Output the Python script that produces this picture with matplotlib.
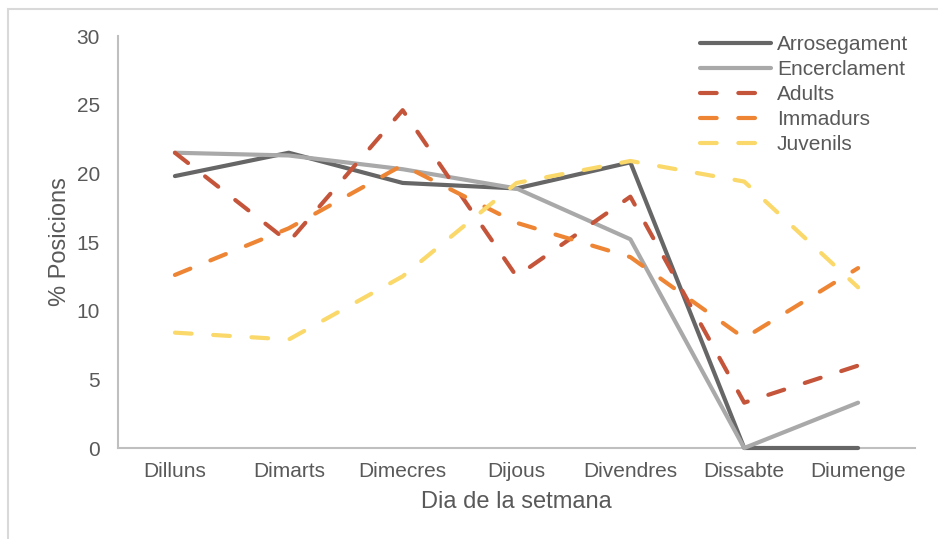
import numpy as np
import matplotlib.pyplot as plt
from matplotlib.patches import Rectangle

plt.rcParams['font.family'] = ['Liberation Sans', 'DejaVu Sans']

# Percentage of positions recorded for each day of the week
days = ['Dilluns', 'Dimarts', 'Dimecres', 'Dijous', 'Divendres', 'Dissabte', 'Diumenge']
arrosegament = [19.8, 21.5, 19.3, 18.9, 20.8, 0.0, 0.0]
encerclament = [21.5, 21.3, 20.3, 18.9, 15.2, 0.0, 3.3]
adults = [21.5, 15.0, 24.6, 12.5, 18.3, 3.3, 6.0]
immadurs = [12.6, 16.0, 20.6, 16.4, 13.9, 8.0, 13.1]
juvenils = [8.4, 7.9, 12.5, 19.3, 20.9, 19.4, 11.7]

text_col = '#595959'
x = np.arange(len(days))

fig = plt.figure(figsize=(9.38, 5.39), dpi=100)
ax = fig.add_axes([118 / 938, 1 - 448 / 539, (915 - 118) / 938, (448 - 36) / 539])

lw = 3.0
common = dict(lw=lw, zorder=3, clip_on=False)
ax.plot(x, arrosegament, color='#666666', solid_capstyle='round', label='Arrosegament', **common)
ax.plot(x, encerclament, color='#a9a9a9', solid_capstyle='round', label='Encerclament', **common)
dash = (4.0, 5.2)
ax.plot(x, adults, color='#c5553a', dashes=dash, dash_capstyle='round', label='Adults', **common)
ax.plot(x, immadurs, color='#ed8534', dashes=dash, dash_capstyle='round', label='Immadurs', **common)
ax.plot(x, juvenils, color='#fad86a', dashes=dash, dash_capstyle='round', label='Juvenils', **common)

ax.set_xlim(-0.5, len(days) - 0.5)
ax.set_ylim(0, 30)
ax.set_yticks(np.arange(0, 31, 5))
ax.set_xticks(x)
ax.set_xticklabels(days)
ax.tick_params(axis='both', length=0, labelsize=15, colors=text_col)
ax.tick_params(axis='y', pad=13)
ax.tick_params(axis='x', pad=10)

for side in ['top', 'right']:
    ax.spines[side].set_visible(False)
for side in ['left', 'bottom']:
    ax.spines[side].set_color('#bfbfbf')
    ax.spines[side].set_linewidth(1.5)

ax.set_xlabel('Dia de la setmana', fontsize=17, color=text_col, labelpad=7)
ax.set_ylabel('% Posicions', fontsize=17, color=text_col, labelpad=4)

leg = ax.legend(loc='upper left', bbox_to_anchor=(700 / 938, 1 - 35 / 539),
                bbox_transform=fig.transFigure, frameon=False, fontsize=15,
                handlelength=3.4, handletextpad=0.3, labelspacing=0.29,
                borderpad=0, borderaxespad=0)
for t in leg.get_texts():
    t.set_color(text_col)

# thin outer frame around the chart area
fig.patches.append(Rectangle((8 / 938, -0.1), 1.2, 1 - 9 / 539 + 0.1,
                             transform=fig.transFigure, fill=False,
                             edgecolor='#d9d9d9', lw=1.5))

fig.savefig('out.png', dpi=100)
